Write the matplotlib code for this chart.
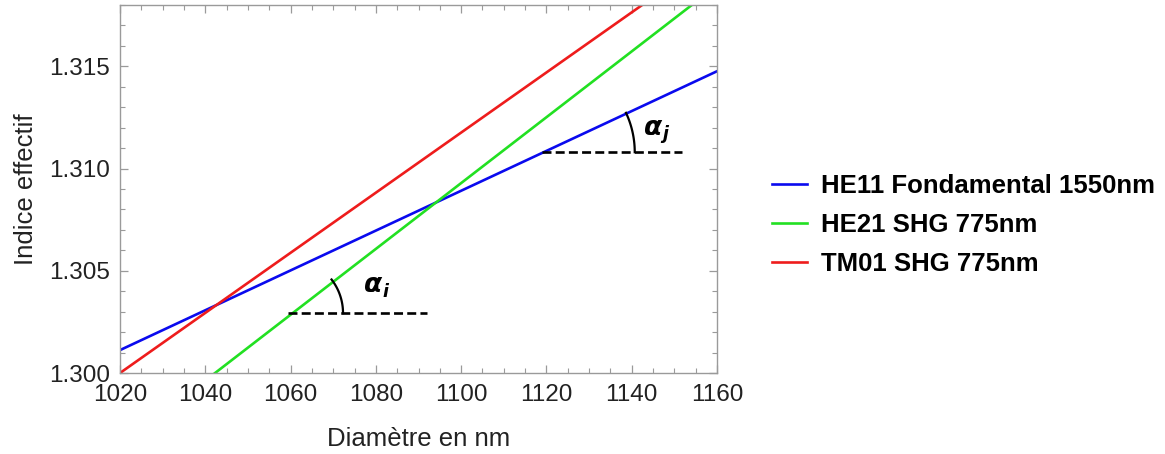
import numpy as np
import matplotlib
matplotlib.use("Agg")
import matplotlib.pyplot as plt
from matplotlib.ticker import MultipleLocator

plt.rcParams['font.family'] = ['Liberation Sans', 'DejaVu Sans']

# data (straight lines, values at both ends of the range)
diametre = [1020, 1160]
he11 = [1.30112, 1.31476]
he21 = [1.29641, 1.31895]
tm01 = [1.30000, 1.32058]

labels = ["HE11 Fondamental 1550nm", "HE21 SHG 775nm", "TM01 SHG 775nm"]
colors = ["#0a0aee", "#22e022", "#ee1c1c"]

# angle marks: (start x, start y, end x of dashed line, arc radius px, curve index, label)
angles = [
    (1059.4, 1.30293, 1092.0, 55, 1, "i", (1079.3, 1.3043)),
    (1118.9, 1.31080, 1151.8, 93, 0, "j", (1145.0, 1.3120)),
]

W, H = 1165, 454
fig = plt.figure(figsize=(W / 100, H / 100), dpi=100)
ax = fig.add_axes([120 / W, 81 / H, 597 / W, 368 / H])

series = [he11, he21, tm01]
for ys, lab, c in zip(series, labels, colors):
    ax.plot(diametre, ys, color=c, lw=1.9, label=lab)

ax.set_xlim(1020, 1160)
ax.set_ylim(1.300, 1.318)
ax.xaxis.set_major_locator(MultipleLocator(20))
ax.xaxis.set_minor_locator(MultipleLocator(5))
ax.yaxis.set_major_locator(MultipleLocator(0.005))
ax.yaxis.set_minor_locator(MultipleLocator(0.001))
ax.yaxis.set_major_formatter(plt.FormatStrFormatter("%.3f"))

gray = "#9a9a9a"
for s in ax.spines.values():
    s.set_color(gray)
    s.set_linewidth(1.0)
ax.tick_params(which="both", direction="in", top=True, right=True, color=gray,
               labelsize=17.5, labelcolor="#222222")
ax.tick_params(which="major", length=6, width=0.9)
ax.tick_params(which="minor", length=3.5, width=0.8)
ax.tick_params(axis="x", pad=8)
ax.tick_params(axis="y", pad=7)

ax.set_xlabel("Diamètre en nm", fontsize=18.5, color="#222222", labelpad=15)
ax.set_ylabel("Indice effectif", fontsize=18.5, color="#222222", labelpad=8)

# dashed horizontals, arcs and alpha labels (arc drawn in pixel space)
tr = ax.transData
inv = tr.inverted()
for x0, y0, x1, r, k, sub, (tx, ty) in angles:
    ax.plot([x0, x1], [y0, y0], color="black", lw=1.9, dashes=(3.4, 1.6))
    p0 = tr.transform((diametre[0], series[k][0]))
    p1 = tr.transform((diametre[1], series[k][1]))
    ang = np.arctan2(p1[1] - p0[1], p1[0] - p0[0])
    c = tr.transform((x0, y0))
    t = np.linspace(0, ang, 40)
    pts = np.column_stack([c[0] + r * np.cos(t), c[1] + r * np.sin(t)])
    d = inv.transform(pts)
    ax.plot(d[:, 0], d[:, 1], color="black", lw=1.6)
    ax.text(tx, ty, "α", fontsize=19, fontweight="bold", fontstyle="italic",
            family="DejaVu Sans", ha="center", va="center")
    ax.text(tx + 2.9, ty - 0.00032, sub, fontsize=12.5, fontweight="bold",
            fontstyle="italic", family="DejaVu Sans", ha="center", va="center")

fig.legend(loc="center left", bbox_to_anchor=(772 / W, 1 - 225 / H),
           frameon=False, prop={"size": 18.5, "weight": "bold"},
           handlelength=1.35, handletextpad=0.55, labelspacing=0.6,
           borderpad=0, borderaxespad=0)

fig.savefig("out.png", dpi=100, facecolor="white")
